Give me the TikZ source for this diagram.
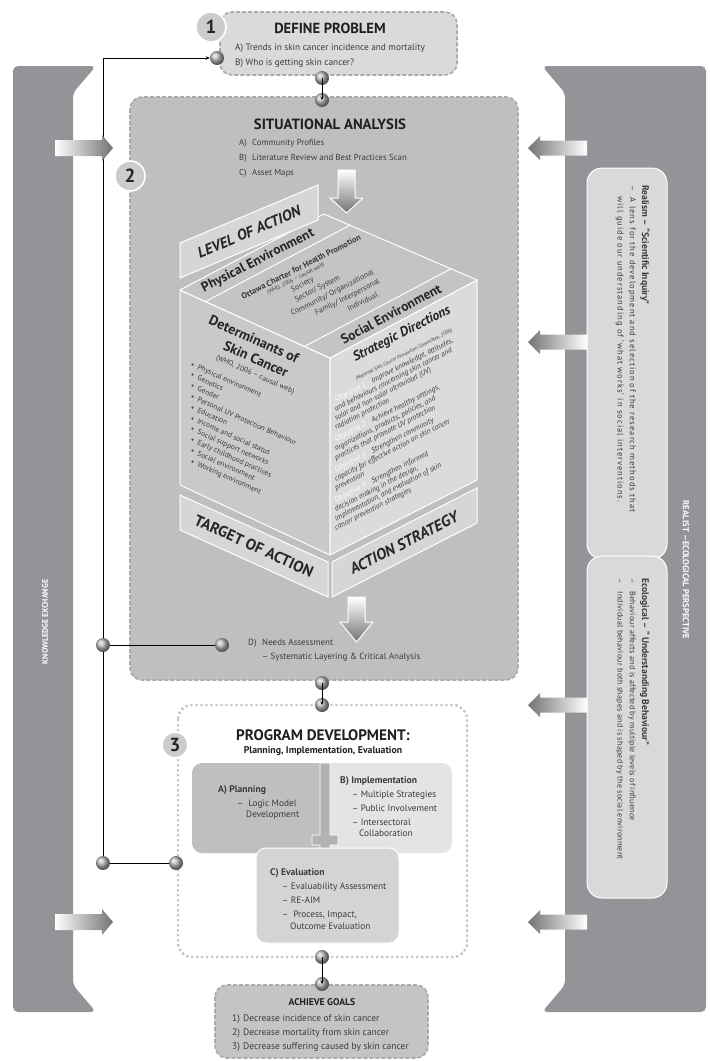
\documentclass[tikz,border=0pt]{standalone}
\usepackage{fontspec}
\setmainfont{PT Sans}
\newfontfamily\spaced[LetterSpace=12]{PT Sans}
\newfontfamily\loose[LetterSpace=3]{PT Sans}
\usetikzlibrary{calc,positioning,arrows.meta}

\definecolor{bandgray}{HTML}{939498}
\definecolor{boxgray}{HTML}{BEBFC1}
\definecolor{softgray}{HTML}{D9DADC}
\definecolor{palegray}{HTML}{E3E4E5}
\definecolor{dashgray}{HTML}{A9AAAC}
\definecolor{inkgray}{HTML}{3B3B3D}

\tikzstyle{band}=[fill=bandgray,rounded corners=5pt]
\tikzstyle{panel}=[draw=dashgray,line width=1.6pt,dash pattern=on 4pt off 2pt,rounded corners=12pt]
\tikzstyle{dotpanel}=[draw=black!22,line width=2.4pt,dash pattern=on 2.4pt off 2.6pt,rounded corners=14pt]
\tikzstyle{subbox}=[draw=white,line width=1pt,rounded corners=10pt]
\tikzstyle{numcirc}=[circle,fill=black!20,draw=white,line width=1.6pt,minimum size=30pt,inner sep=0pt,text=black!85,font=\fontsize{19}{19}\selectfont\bfseries]
\tikzstyle{sphere}=[circle,minimum size=14pt,inner sep=0pt,shade,ball color=black!28]
\tikzstyle{link}=[draw=black,line width=0.6pt]
\tikzstyle{face}=[draw=white,line width=1pt,line join=round]
\tikzstyle{banner}=[fill=black!16,draw=white,line width=1pt]
\tikzstyle{downarrow}=[draw=white,line width=1pt,top color=white,bottom color=black!55]
\tikzstyle{rightarrow}=[left color=white,right color=black!55]
\tikzstyle{leftarrow}=[left color=black!55,right color=white]
\tikzstyle{headline}=[font=\fontsize{14.6}{15}\selectfont\bfseries,text=black!88]
\tikzstyle{entry}=[anchor=base west,inner sep=0pt]
\tikzstyle{bannertext}=[font=\fontsize{15.5}{16}\selectfont\bfseries,text=black!85]
\tikzstyle{facetitle}=[font=\fontsize{13.5}{14}\selectfont\bfseries,text=black!85]

\begin{document}
\begin{tikzpicture}[x=1pt,y=-1pt,text=inkgray,font=\fontsize{8.7}{10}\selectfont]
\useasboundingbox (0,0) rectangle (710,1061);

% Side bands
\fill[band] (13,66) -- (96,66) -- (73,93) -- (73,985) -- (96,1012) -- (13,1012) -- cycle;
\fill[band] (706,66) -- (542,66) -- (565,93) -- (565,985) -- (542,1012) -- (706,1012) -- cycle;
\node[rotate=90,text=white,font=\fontsize{8}{8}\selectfont\bfseries] (kxlabel) at (45,622) {KNOWLEDGE EXCHANGE};
\node[rotate=-90,text=white,font=\fontsize{8.6}{9}\selectfont\bfseries] (relabel) at (686,570) {REALIST —ECOLOGICAL PERSPECTIVE};

% Perspective boxes
\draw[subbox,fill=black!15,rounded corners=15pt] (587,168) rectangle (667,559);
\draw[subbox,fill=black!15,rounded corners=15pt] (587,556) rectangle (667,898);
\node[rotate=-90,anchor=north west,align=left,inner sep=0pt,font=\fontsize{8.5}{12.2}\selectfont] (realism) at (650,185)
  {{\fontsize{9.6}{12.2}\selectfont\bfseries Realism – “Scientific Inquiry”}\\
   {\spaced –\hspace*{7pt}A lens for the development and selection of the research methods that}\\
   {\spaced\hspace*{11pt}will guide our understanding of ‘what works’ in social interventions.}};
\node[rotate=-90,anchor=north west,align=left,inner sep=0pt,font=\fontsize{8}{12.2}\selectfont] (ecology) at (650,578)
  {{\fontsize{9.6}{12.2}\selectfont\bfseries Ecological – “ Understanding Behaviour”}\\
   {\loose –\hspace*{8pt}Behaviour affects and is affected by multiple levels of influence}\\
   {\loose –\hspace*{8pt}Individual behaviour both shapes and is shaped by the social environment}};

% Step boxes
\draw[panel,fill=softgray] (220,12) rectangle (457,75);
\draw[panel,fill=boxgray] (130,97) rectangle (518,680);
\draw[dotpanel,fill=white] (178,705) rectangle (467,957);
\draw[panel,fill=black!23] (215,985) rectangle (428,1058);

% Define problem
\node[headline] (deftitle) at (330,28) {DEFINE PROBLEM};
\node[entry,font=\fontsize{9.3}{10}\selectfont] (defa) at (235,50) {A) Trends in skin cancer incidence and mortality};
\node[entry,font=\fontsize{9.3}{10}\selectfont] (defb) at (235,65) {B) Who is getting skin cancer?};

% Situational analysis
\node[headline,font=\fontsize{14.8}{15}\selectfont\bfseries] (sittitle) at (330,124) {SITUATIONAL ANALYSIS};
\node[entry] (sita) at (239,145) {\makebox[13pt][l]{A)}Community Profiles};
\node[entry] (sitb) at (239,160) {\makebox[13pt][l]{B)}Literature Review and Best Practices Scan};
\node[entry] (sitc) at (239,175) {\makebox[13pt][l]{C)}Asset Maps};
\shadedraw[downarrow] (338,170) -- (355,170) -- (355,198) -- (363,198) -- (346.5,213) -- (330,198) -- (338,198) -- cycle;

% Cube
\coordinate (T) at (324,214);
\coordinate (L) at (180,290);
\coordinate (F) at (330,358);
\coordinate (R) at (477,280);
\coordinate (LB) at (180,485);
\coordinate (FB) at (330,555);
\coordinate (RB) at (477,480);
\draw[face,fill=black!21] (L) -- (F) -- (FB) -- (LB) -- cycle;
\draw[face,fill=black!14] (F) -- (R) -- (RB) -- (FB) -- cycle;
\draw[face,fill=black!23] (T) -- (R) -- (F) -- (L) -- cycle;
\coordinate (pe1) at ($(L)!0.17!(F)$);
\coordinate (pe2) at ($(T)!0.17!(R)$);
\coordinate (se1) at ($(L)!0.83!(F)$);
\coordinate (se2) at ($(T)!0.83!(R)$);
\draw[white,line width=1pt] (pe1) -- (pe2);
\draw[white,line width=1pt] (se1) -- (se2);

% Cube banners
\draw[banner] (180,243) -- (318,185) -- (318,220) -- (180,278) -- cycle;
\draw[banner] (180,495) -- (328,562) -- (328,597) -- (180,530) -- cycle;
\draw[banner] (332,562) -- (477,488) -- (477,523) -- (332,597) -- cycle;
\node[bannertext,rotate=23,font=\fontsize{15}{16}\selectfont\bfseries\itshape] (levelact) at (249,232) {LEVEL OF ACTION};
\node[bannertext,rotate=-24.4] (targetact) at (254,546) {TARGET OF ACTION};
\node[bannertext,rotate=27,font=\fontsize{15.5}{16}\selectfont\bfseries\itshape] (actstrat) at (404,543) {ACTION STRATEGY};

% Top face
\node[facetitle,rotate=27] (physenv) at (258,261) {Physical Environment};
\node[rotate=27,font=\fontsize{8.4}{9}\selectfont\bfseries] (ottawa) at (301,267) {Ottawa Charter for Health Promotion};
\node[rotate=27,font=\fontsize{5.6}{6}\selectfont] (ottawho) at (296,279) {(WHO, 2006 – causal web)};
\foreach \lvl [count=\k from 0] in {{Society},{Sector/ System},{Community/ Organizational},{Family/ Interpersonal},{Individual}}
  \node[rotate=27,font=\fontsize{7.8}{8}\selectfont] (lvl\k) at ({302.5+15*\k},{285+4.15*\k}) {\lvl};
\node[facetitle,rotate=28] (socenv) at (391,314) {Social Environment};

% Left face
\node[facetitle,rotate=-24,font=\fontsize{14}{14}\selectfont\bfseries] (deta) at (254,339) {Determinants of};
\node[facetitle,rotate=-24,font=\fontsize{14}{14}\selectfont\bfseries] (detb) at (256,359) {Skin Cancer};
\node[rotate=-24,font=\fontsize{7.5}{8}\selectfont] (detwho) at (255,375) {(WHO, 2006 – causal web)};
\node[rotate=-24,anchor=base west,align=left,inner sep=0pt,font=\fontsize{7.5}{9.86}\selectfont] (detlist) at (153.9,447.1)
  {\textbullet\hspace{4pt}Physical environment\\
   \hspace*{4.39pt}\textbullet\hspace{4pt}Genetics\\
   \hspace*{8.78pt}\textbullet\hspace{4pt}Gender\\
   \hspace*{13.17pt}\textbullet\hspace{4pt}Personal UV Protection Behaviour\\
   \hspace*{17.56pt}\textbullet\hspace{4pt}Education\\
   \hspace*{21.95pt}\textbullet\hspace{4pt}Income and social status\\
   \hspace*{26.34pt}\textbullet\hspace{4pt}Social support networks\\
   \hspace*{30.73pt}\textbullet\hspace{4pt}Early childhood practices\\
   \hspace*{35.12pt}\textbullet\hspace{4pt}Social environment\\
   \hspace*{39.51pt}\textbullet\hspace{4pt}Working environment};

% Right face
\node[facetitle,rotate=27,font=\fontsize{13.5}{14}\selectfont\bfseries\itshape] (stratdir) at (402,334) {Strategic Directions};
\node[rotate=27,font=\fontsize{5.2}{6}\selectfont\itshape] (stratsrc) at (404,355) {(National Skin Cancer Prevention Committee, 2006)};
\node[rotate=27,anchor=base west,align=left,inner sep=0pt,font=\fontsize{7.5}{8.287}\selectfont\itshape] (objlist) at (336,530.4)
  {\hspace*{58.30pt}\textcolor{white}{Objective 1}\hspace{7pt}Improve knowledge, attitudes,\\
   \hspace*{54.07pt}and behaviours concerning skin cancer and\\
   \hspace*{49.85pt}solar and non-solar ultraviolet (UV)\\
   \hspace*{45.63pt}radiation protection\\[2.23pt]
   \hspace*{40.27pt}\textcolor{white}{Objective 2}\hspace{7pt}Achieve healthy settings,\\
   \hspace*{36.05pt}organizations, products, policies, and\\
   \hspace*{31.83pt}practices that promote UV protection\\[2.23pt]
   \hspace*{26.47pt}\textcolor{white}{Objective 3}\hspace{7pt}Strengthen community\\
   \hspace*{22.25pt}capacity for effective action on skin cancer\\
   \hspace*{18.02pt}prevention\\[2.23pt]
   \hspace*{12.67pt}\textcolor{white}{Objective 4}\hspace{7pt}Strengthen informed\\
   \hspace*{8.45pt}decision making in the design,\\
   \hspace*{4.22pt}implementation, and evaluation of skin\\
   cancer prevention strategies};

% Needs assessment
\shadedraw[downarrow] (348,597) -- (365,597) -- (365,622) -- (373,622) -- (356.5,642) -- (340,622) -- (348,622) -- cycle;
\node[entry,font=\fontsize{9}{10}\selectfont] (needa) at (248,645) {\makebox[14pt][l]{D)}Needs Assessment};
\node[entry,font=\fontsize{9}{10}\selectfont] (needb) at (262,659) {– Systematic Layering \& Critical Analysis};

% Program development
\node[font=\fontsize{15.2}{15}\selectfont\bfseries,text=black!88] (progtitle) at (323,735) {PROGRAM DEVELOPMENT:};
\node[font=\fontsize{9.8}{10}\selectfont\bfseries,text=black!88] (progsub) at (323,751) {Planning, Implementation, Evaluation};
\fill[boxgray,rounded corners=10pt] (192,763) rectangle (332,853);
\fill[palegray,rounded corners=10pt] (323,763) rectangle (452,853);
\draw[fill=black!30,draw=white,line width=0.8pt] (320,763) -- (330,763) -- (330,835) -- (338,835) -- (338,845) -- (330,845) -- (330,852) -- (335,852) -- (325,864) -- (315,852) -- (320,852) -- (320,845) -- (312,845) -- (312,835) -- (320,835) -- cycle;
\draw[subbox,fill=black!17] (256,848) rectangle (399,943);
\begin{scope}[every node/.style={font=\fontsize{9.3}{10}\selectfont}]
\node[entry,font=\fontsize{9.6}{10}\selectfont\bfseries] (plana) at (218,792) {A) Planning};
\node[entry] (planb) at (237,806) {– \ Logic Model};
\node[entry] (planc) at (246,817) {Development};
\node[entry,font=\fontsize{9.6}{10}\selectfont\bfseries] (impla) at (340,783) {B) Implementation};
\node[entry] (implb) at (352,797) {– Multiple Strategies};
\node[entry] (implc) at (352,811) {– Public Involvement};
\node[entry] (impld) at (352,825) {– Intersectoral};
\node[entry] (imple) at (359,836) {Collaboration};
\node[entry,font=\fontsize{9.6}{10}\selectfont\bfseries] (evala) at (270,875) {C) Evaluation};
\node[entry] (evalb) at (282,889) {– Evaluability Assessment};
\node[entry] (evalc) at (282,903) {– RE-AIM};
\node[entry] (evald) at (282,917) {– \ Process, Impact,};
\node[entry] (evale) at (290,929) {Outcome Evaluation};
\end{scope}

% Achieve goals
\node[font=\fontsize{9.7}{10}\selectfont\bfseries,text=black!88] (goaltitle) at (322,1002) {ACHIEVE GOALS};
\begin{scope}[every node/.style={font=\fontsize{9.5}{10}\selectfont}]
\node[entry] (goala) at (232,1021) {\makebox[11pt][l]{1)}Decrease incidence of skin cancer};
\node[entry] (goalb) at (232,1035) {\makebox[11pt][l]{2)}Decrease mortality from skin cancer};
\node[entry] (goalc) at (232,1049) {\makebox[11pt][l]{3)}Decrease suffering caused by skin cancer};
\end{scope}

% Connectors
\node[sphere] (defin) at (217,58) {};
\node[sphere] (defout) at (322,78) {};
\node[sphere] (sitin) at (322,100) {};
\node[sphere] (needin) at (222,645) {};
\node[sphere] (kxmid) at (103,645) {};
\node[sphere] (sitout) at (322,683) {};
\node[sphere] (progin) at (322,705) {};
\node[sphere] (progleft) at (176,863) {};
\node[sphere] (kxlow) at (103,863) {};
\node[sphere] (progout) at (322,957) {};
\node[sphere] (goalin) at (322,984) {};
\coordinate (kxtop) at (103,58);
\draw[link] (kxlow) -- (kxmid);
\draw[link,-{Stealth[length=4pt,width=3.5pt]}] (kxmid) -- (kxtop) -- (defin);
\draw[link] (kxmid) -- (needin);
\draw[link] (kxlow) -- (progleft);
\draw[link,-{Stealth[length=3.5pt,width=3pt]}] (defout.center) -- (sitin.center);
\draw[link,-{Stealth[length=3.5pt,width=3pt]}] (sitout.center) -- (progin.center);
\draw[link,-{Stealth[length=3.5pt,width=3pt]}] (progout.center) -- (goalin.center);

% Arrows from the bands
\shade[rightarrow] (55,140) -- (102,140) -- (102,135) -- (113,148) -- (102,161) -- (102,156) -- (55,156) -- cycle;
\shade[rightarrow] (55,914) -- (102,914) -- (102,909) -- (113,922) -- (102,935) -- (102,930) -- (55,930) -- cycle;
\shade[leftarrow] (587,140.5) -- (540,140.5) -- (540,136) -- (528,148) -- (540,160) -- (540,155.5) -- (587,155.5) -- cycle;
\shade[leftarrow] (587,334.5) -- (540,334.5) -- (540,330) -- (528,342) -- (540,354) -- (540,349.5) -- (587,349.5) -- cycle;
\shade[leftarrow] (587,697.5) -- (540,697.5) -- (540,693) -- (528,705) -- (540,717) -- (540,712.5) -- (587,712.5) -- cycle;
\shade[leftarrow] (587,914.5) -- (540,914.5) -- (540,910) -- (528,922) -- (540,934) -- (540,929.5) -- (587,929.5) -- cycle;

% Step numbers
\node[numcirc] (stepone) at (211,27) {1};
\node[numcirc] (steptwo) at (130,176) {2};
\node[numcirc,minimum size=26pt] (stepthree) at (175,745) {3};

\end{tikzpicture}
\end{document}
